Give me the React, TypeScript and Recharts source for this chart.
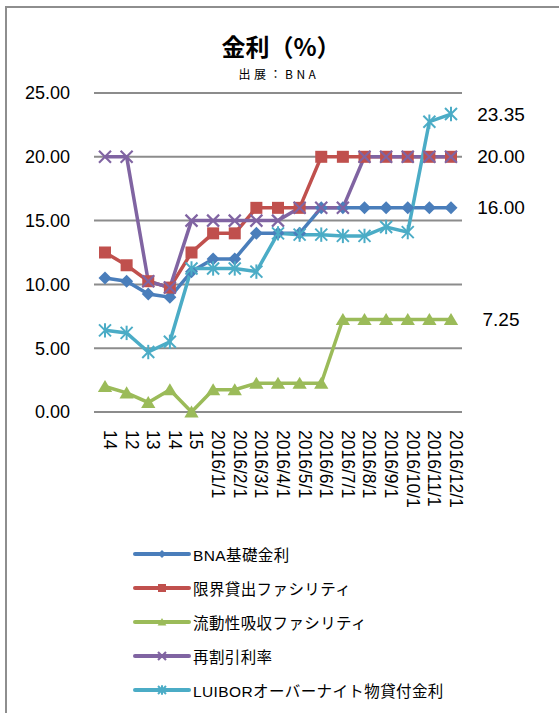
import { LineChart, Line, XAxis, YAxis, CartesianGrid, LabelList } from "recharts"

const categories = [
  "14", "12", "13", "14", "15",
  "2016/1/1", "2016/2/1", "2016/3/1", "2016/4/1", "2016/5/1", "2016/6/1",
  "2016/7/1", "2016/8/1", "2016/9/1", "2016/10/1", "2016/11/1", "2016/12/1",
]
const bnaBase = [10.5, 10.25, 9.25, 9.0, 11.0, 12, 12, 14, 14, 14, 16, 16, 16, 16, 16, 16, 16]
const lendingFacility = [12.5, 11.5, 10.25, 9.75, 12.5, 14, 14, 16, 16, 16, 20, 20, 20, 20, 20, 20, 20]
const absorptionFacility = [2.0, 1.5, 0.75, 1.75, 0, 1.75, 1.75, 2.25, 2.25, 2.25, 2.25, 7.25, 7.25, 7.25, 7.25, 7.25, 7.25]
const rediscountRate = [20, 20, 10.25, 9.75, 15, 15, 15, 15, 15, 16, 16, 16, 20, 20, 20, 20, 20]
const luibor = [6.4, 6.2, 4.7, 5.5, 11.25, 11.25, 11.25, 11.0, 14.0, 13.9, 13.9, 13.8, 13.8, 14.5, 14.1, 22.75, 23.35]
const yTicks = [0, 5, 10, 15, 20, 25]

const data = categories.map((name, i) => ({
  name,
  bna: bnaBase[i],
  lending: lendingFacility[i],
  absorption: absorptionFacility[i],
  rediscount: rediscountRate[i],
  luibor: luibor[i],
}))

const BLUE = "#4a7ebb"
const RED = "#c0504d"
const GREEN = "#9bbb59"
const PURPLE = "#8064a2"
const CYAN = "#4bacc6"

const latin = "'Liberation Sans', Arial, sans-serif"
const jp = "'Liberation Sans', 'Noto Sans CJK JP', sans-serif"

function marker(kind: string, color: string, cx: number, cy: number, s: number, key?: any) {
  if (kind === "diamond")
    return <polygon key={key} points={`${cx},${cy - s} ${cx + s},${cy} ${cx},${cy + s} ${cx - s},${cy}`} fill={color} />
  if (kind === "square")
    return <rect key={key} x={cx - s} y={cy - s} width={s * 2} height={s * 2} fill={color} />
  if (kind === "triangle")
    return <polygon key={key} points={`${cx},${cy - s} ${cx + s * 1.1},${cy + s * 0.85} ${cx - s * 1.1},${cy + s * 0.85}`} fill={color} />
  if (kind === "x")
    return (
      <g key={key} stroke={color} strokeWidth={2.2}>
        <line x1={cx - s} y1={cy - s} x2={cx + s} y2={cy + s} />
        <line x1={cx - s} y1={cy + s} x2={cx + s} y2={cy - s} />
      </g>
    )
  return (
    <g key={key} stroke={color} strokeWidth={2}>
      <line x1={cx - s} y1={cy - s} x2={cx + s} y2={cy + s} />
      <line x1={cx - s} y1={cy + s} x2={cx + s} y2={cy - s} />
      <line x1={cx} y1={cy - s * 1.2} x2={cx} y2={cy + s * 1.2} />
    </g>
  )
}

const dotFor = (kind: string, color: string, s: number) => (p: any) =>
  marker(kind, color, p.cx, p.cy, s, p.index)

const lastLabel = (p: any) => {
  if (p.index !== categories.length - 1) return null
  return (
    <text
      x={p.x + 50}
      y={p.y}
      dy="0.35em"
      textAnchor="middle"
      fontSize={19}
      fontFamily={latin}
      fill="#000"
    >
      {Number(p.value).toFixed(2)}
    </text>
  )
}

const XTick = (p: any) => (
  <text
    x={p.x}
    y={p.y}
    transform={`rotate(90 ${p.x} ${p.y + 5})`}
    dx={5}
    dy="0.35em"
    textAnchor="start"
    fontSize={17.5}
    fontFamily={latin}
    fill="#000"
  >
    {p.payload.value}
  </text>
)

const legendItems = [
  { label: "BNA基礎金利", color: BLUE, kind: "diamond" },
  { label: "限界貸出ファシリティ", color: RED, kind: "square" },
  { label: "流動性吸収ファシリティ", color: GREEN, kind: "triangle" },
  { label: "再割引利率", color: PURPLE, kind: "x" },
  { label: "LUIBORオーバーナイト物貸付金利", color: CYAN, kind: "star" },
]

export default function App() {
  return (
    <div style={{ position: "absolute", left: 0, top: 0, width: 559, height: 713, overflow: "hidden", background: "#fff" }}>
      <div
        style={{
          position: "absolute",
          left: 5,
          top: 6,
          width: 700,
          height: 800,
          borderTop: "2px solid #8e8e8e",
          borderLeft: "2px solid #8e8e8e",
        }}
      />
      <div
        style={{
          position: "absolute",
          left: 0,
          width: 562,
          top: 30,
          textAlign: "center",
          fontFamily: "'Noto Sans CJK JP', sans-serif",
          fontWeight: 700,
          fontSize: 24,
          lineHeight: "32px",
        }}
      >
        金利（%）
      </div>
      <div
        style={{
          position: "absolute",
          left: 0,
          width: 558,
          top: 67,
          textAlign: "center",
          fontFamily: "'Noto Sans CJK JP', sans-serif",
          fontSize: 12,
          letterSpacing: 3.5,
          lineHeight: "14px",
        }}
      >
        出展：BNA
      </div>
      <div style={{ position: "absolute", left: 0, top: 0 }}>
        <LineChart width={559} height={540} data={data} margin={{ top: 93, right: 97, left: 0, bottom: 0 }}>
          <CartesianGrid vertical={false} stroke="#8c8c8c" strokeWidth={2} />
          <XAxis
            dataKey="name"
            axisLine={false}
            tickLine={false}
            interval={0}
            height={128}
            padding={{ left: 11, right: 11 }}
            tick={<XTick />}
          />
          <YAxis
            domain={[0, 25]}
            ticks={yTicks}
            width={94}
            axisLine={false}
            tickLine={false}
            tickMargin={18}
            tickFormatter={(v: number) => v.toFixed(2)}
            tick={{ fontSize: 18, fontFamily: latin, fill: "#000" }}
          />
          <Line dataKey="absorption" stroke={GREEN} strokeWidth={3.5} dot={dotFor("triangle", GREEN, 6.5)} activeDot={false} isAnimationActive={false}>
            <LabelList dataKey="absorption" content={lastLabel} />
          </Line>
          <Line dataKey="bna" stroke={BLUE} strokeWidth={3.5} dot={dotFor("diamond", BLUE, 6.5)} activeDot={false} isAnimationActive={false}>
            <LabelList dataKey="bna" content={lastLabel} />
          </Line>
          <Line dataKey="lending" stroke={RED} strokeWidth={3.5} dot={dotFor("square", RED, 6)} activeDot={false} isAnimationActive={false}>
            <LabelList dataKey="lending" content={lastLabel} />
          </Line>
          <Line dataKey="rediscount" stroke={PURPLE} strokeWidth={3.5} dot={dotFor("x", PURPLE, 6)} activeDot={false} isAnimationActive={false} />
          <Line dataKey="luibor" stroke={CYAN} strokeWidth={3.5} dot={dotFor("star", CYAN, 6)} activeDot={false} isAnimationActive={false}>
            <LabelList dataKey="luibor" content={lastLabel} />
          </Line>
        </LineChart>
      </div>
      {legendItems.map((item, i) => (
        <div
          key={item.label}
          style={{ position: "absolute", left: 133, top: 554 + i * 34 - 12, height: 24, display: "flex", alignItems: "center" }}
        >
          <svg width={58} height={24}>
            <line x1={2} y1={12} x2={56} y2={12} stroke={item.color} strokeWidth={4} strokeLinecap="round" />
            {marker(item.kind, item.color, 29, 12, 4)}
          </svg>
          <span style={{ marginLeft: 2, fontSize: 15.5, letterSpacing: 0.4, fontFamily: jp, color: "#000", whiteSpace: "nowrap" }}>{item.label}</span>
        </div>
      ))}
    </div>
  )
}
